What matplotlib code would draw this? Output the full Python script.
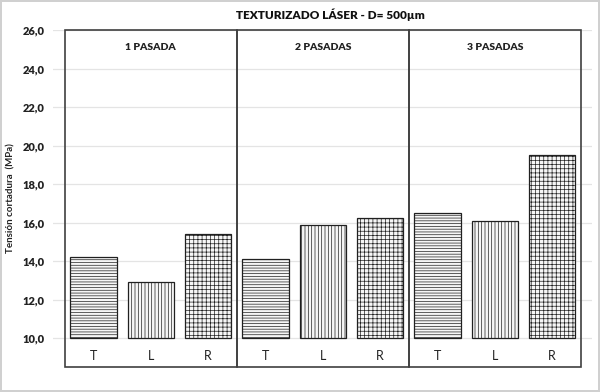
import matplotlib
matplotlib.use("Agg")
import matplotlib.pyplot as plt
from matplotlib.patches import Rectangle

plt.rcParams['font.family'] = ['Lato', 'DejaVu Sans']
plt.rcParams['hatch.linewidth'] = 0.5
plt.rcParams['hatch.color'] = '#505050'

# data
panels = ["1 PASADA", "2 PASADAS", "3 PASADAS"]
cats = ["T", "L", "R"]
values_1 = [14.2, 12.93, 15.4]
values_2 = [14.14, 15.87, 16.27]
values_3 = [16.51, 16.09, 19.52]
yticks = [10, 12, 14, 16, 18, 20, 22, 24, 26]
hatches = ["------", "|||||", "++++"]
base = 10

fig = plt.figure(figsize=(6, 3.92), dpi=100)
fig.patch.set_edgecolor('#d0d0d0')
fig.patch.set_linewidth(1.5)
ax = fig.add_axes([0.088, 0.064, 0.899, 0.859])

allvals = [values_1, values_2, values_3]
for p, vals in enumerate(allvals):
    for i, v in enumerate(vals):
        x = p * 3 + i
        ax.bar(x, v - base, bottom=base, width=0.81, color='#f6f6f6',
               edgecolor='#202020', linewidth=0.9, hatch=hatches[i], zorder=3)
        ax.text(x, 9.1, cats[i], ha='center', va='center', fontsize=9,
                color='#222222')
    ax.add_patch(Rectangle((p * 3 - 0.5, 8.51), 3, 26 - 8.51, fill=False,
                           edgecolor='#404040', linewidth=1.2, zorder=4,
                           clip_on=False))
    ax.text(p * 3 + 1, 25.1, panels[p], ha='center', va='center',
            fontsize=7.5, fontweight='heavy', color='#222222')

ax.set_xlim(-0.71, 8.70)
ax.set_ylim(8.51, 26)
ax.set_yticks(yticks)
ax.set_yticklabels([f"{t:.1f}".replace('.', ',') for t in yticks],
                   fontweight='heavy', fontsize=8)
ax.set_xticks([])
ax.tick_params(axis='y', length=0, pad=6, colors='#222222')
ax.yaxis.grid(True, color='#e4e4e4', linewidth=0.9, zorder=0)
for s in ax.spines.values():
    s.set_visible(False)

ax.set_ylabel("Tensión cortadura  (MPa)", fontsize=7, fontweight='bold',
              color='#222222', labelpad=4)
ax.yaxis.set_label_coords(-0.07, 0.5)
fig.text(0.55, 0.962, "TEXTURIZADO LÁSER - D= 500µm", ha='center', va='center',
         fontsize=8.5, fontweight='heavy', color='#111111')

fig.savefig("out.png", dpi=100)
